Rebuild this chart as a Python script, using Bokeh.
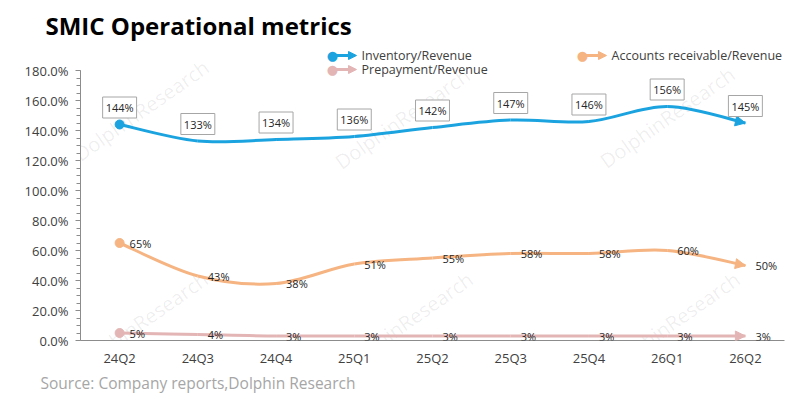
from bokeh.plotting import figure
from bokeh.models import (Range1d, FixedTicker, PrintfTickFormatter, Label, LabelSet,
                          ColumnDataSource, Arrow, NormalHead, Title)
from bokeh.core.properties import value
from bokeh.embed import file_html
from bokeh.resources import INLINE

# ---------------- data ----------------
quarters = ["24Q2", "24Q3", "24Q4", "25Q1", "25Q2", "25Q3", "25Q4", "26Q1", "26Q2"]
inventory_rev = [144, 133, 134, 136, 142, 147, 146, 156, 145]
receivable_rev = [65, 43, 38, 51, 55, 58, 58, 60, 50]
prepayment_rev = [5, 4, 3, 3, 3, 3, 3, 3, 3]
y_ticks = [0, 20, 40, 60, 80, 100, 120, 140, 160, 180]

series_names = ["Inventory/Revenue", "Accounts receivable/Revenue", "Prepayment/Revenue"]
title_text = "SMIC Operational metrics"
source_text = "Source: Company reports,Dolphin Research"
watermark_text = "DolphinResearch"

C_INV = "#1BA3E0"
C_AR = "#F5B482"
C_PRE = "#E3B5B5"
FONT = "Open Sans"

xs = list(range(len(quarters)))

# frame: left 80, right 784, bottom 340; top 43 (room for the legend inside the frame)
p = figure(width=794, height=397, output_backend="svg", toolbar_location=None,
           x_range=Range1d(-0.5, len(quarters) - 0.5), y_range=Range1d(0, 198),
           min_border_left=80, min_border_right=10, min_border_top=43, min_border_bottom=57)
p.xgrid.visible = False
p.ygrid.visible = False
p.outline_line_color = None
p.background_fill_color = "white"
p.border_fill_color = "white"

# title
p.title.text = title_text
p.title.align = "left"
p.title.offset = -35
p.title.text_font = FONT
p.title.text_font_style = "bold"
p.title.text_font_size = "24px"
p.title.text_color = "#000000"
p.title.standoff = 3

# y axis
ya = p.yaxis[0]
ya.bounds = (0, 180)
ya.ticker = FixedTicker(ticks=y_ticks, minor_ticks=list(range(0, 181, 5)))
ya.formatter = PrintfTickFormatter(format="%.1f%%")
ya.axis_line_color = "#8c8c8c"
ya.major_tick_line_color = "#8c8c8c"
ya.minor_tick_line_color = "#8c8c8c"
ya.major_tick_out = 5
ya.major_tick_in = 0
ya.minor_tick_out = 4
ya.minor_tick_in = 0
ya.major_label_text_font = FONT
ya.major_label_text_font_size = "13px"
ya.major_label_text_color = "#404040"
ya.major_label_standoff = 7

# x axis
xa = p.xaxis[0]
xa.ticker = FixedTicker(ticks=xs)
xa.major_label_overrides = {i: q for i, q in zip(xs, quarters)}
xa.axis_line_color = "#8c8c8c"
xa.major_tick_line_color = None
xa.minor_tick_line_color = None
xa.major_tick_out = 0
xa.major_label_text_font = FONT
xa.major_label_text_font_size = "13px"
xa.major_label_text_color = "#404040"
xa.major_label_standoff = 8

# source note below the axis
p.add_layout(Title(text=source_text, align="left", offset=-40, text_font=FONT,
                   text_font_size="15.5px", text_font_style="normal", text_color="#a6a6a6",
                   standoff=0), "below")

# watermarks (screen units, relative to frame bottom-left)
for cx, cy in [(141, 110), (402, 118), (667, 117), (140, 322), (405, 322), (672, 322)]:
    p.add_layout(Label(x=cx - 80, y=340 - cy, x_units="screen", y_units="screen",
                       text=watermark_text, angle=35, angle_units="deg",
                       text_align="center", text_baseline="middle",
                       text_font=FONT, text_font_size="20px", text_color="#000000",
                       text_alpha=0.07, level="underlay"))


def smooth(vals):
    """Cubic Bezier segments through the data points (Catmull-Rom style)."""
    n = len(vals)
    d = dict(x0=[], y0=[], x1=[], y1=[], cx0=[], cy0=[], cx1=[], cy1=[])
    for i in range(n - 1):
        xm, ym = (xs[i - 1], vals[i - 1]) if i > 0 else (xs[i], vals[i])
        xp, yp = (xs[i + 2], vals[i + 2]) if i + 2 < n else (xs[i + 1], vals[i + 1])
        d["x0"].append(xs[i]); d["y0"].append(vals[i])
        d["x1"].append(xs[i + 1]); d["y1"].append(vals[i + 1])
        d["cx0"].append(xs[i] + (xs[i + 1] - xm) / 6)
        d["cy0"].append(vals[i] + (vals[i + 1] - ym) / 6)
        d["cx1"].append(xs[i + 1] - (xp - xs[i]) / 6)
        d["cy1"].append(vals[i + 1] - (yp - vals[i]) / 6)
    return d


def draw_series(vals, color, width):
    seg = smooth(vals)
    p.bezier(x0="x0", y0="y0", x1="x1", y1="y1", cx0="cx0", cy0="cy0", cx1="cx1", cy1="cy1",
             source=ColumnDataSource(seg), line_color=color, line_width=width)
    p.scatter(x=xs[:1], y=vals[:1], size=9, fill_color=color, line_color=color)
    p.add_layout(Arrow(x_start=seg["cx1"][-1], y_start=seg["cy1"][-1],
                       x_end=xs[-1], y_end=vals[-1], line_alpha=0, line_width=0.1,
                       end=NormalHead(size=10, fill_color=color, line_color=color)))


draw_series(inventory_rev, C_INV, 3)
draw_series(receivable_rev, C_AR, 3)
draw_series(prepayment_rev, C_PRE, 3)

# data labels
for xv, v in zip(xs, inventory_rev):
    p.add_layout(Label(x=xv, y=v, text=f"{v}%", y_offset=17,
                       text_align="center", text_baseline="middle",
                       text_font=FONT, text_font_size="11px", text_color="#262626",
                       background_fill_color="white", border_line_color="#a6a6a6",
                       border_line_width=1, padding=3))
for vals in (receivable_rev, prepayment_rev):
    src = ColumnDataSource(dict(x=xs, y=vals, t=[f"{v}%" for v in vals]))
    p.add_layout(LabelSet(x="x", y="y", text="t", source=src, x_offset=10,
                          text_align="left", text_baseline="middle",
                          text_font=value(FONT), text_font_size="11px", text_color="#262626"))

# legend (screen units, relative to frame)
legend_rows = [(332, 55, C_INV, series_names[0]),
               (582, 55, C_AR, series_names[1]),
               (332, 69, C_PRE, series_names[2])]
for lx, ly, col, name in legend_rows:
    fx, fy = lx - 80, 340 - ly
    p.add_layout(Arrow(x_start=fx, y_start=fy, x_end=fx + 24, y_end=fy,
                       start_units="screen", end_units="screen",
                       line_color=col, line_width=3,
                       end=NormalHead(size=8, fill_color=col, line_color=col)))
    p.add_layout(Label(x=fx, y=fy, x_units="screen", y_units="screen", text="\u25cf",
                       text_align="center", text_baseline="middle", text_font="DejaVu Sans",
                       text_font_size="13px", text_color=col))
    p.add_layout(Label(x=fx + 29, y=fy, x_units="screen", y_units="screen", text=name,
                       text_align="left", text_baseline="middle", text_font=FONT,
                       text_font_size="12.5px", text_color="#404040"))

open("out.html", "w").write(file_html(p, INLINE))
